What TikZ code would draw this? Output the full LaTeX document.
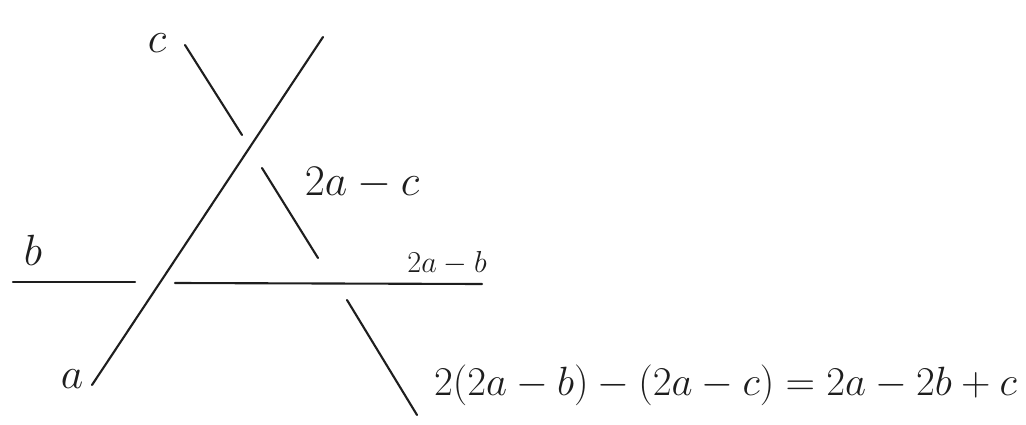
\documentclass[tikz,border=0pt]{standalone}
\usepackage{tikz}
\usetikzlibrary{positioning}
\definecolor{inkgray}{HTML}{1E1E1E}
\tikzset{
  ln/.style={line width=1.2pt,draw=inkgray,line cap=round},
  lbl/.style={font=\fontsize{24}{28}\selectfont,text=inkgray,inner sep=1pt},
}

\begin{document}
\begin{tikzpicture}[x=0.02cm,y=-0.02cm]
  \useasboundingbox (0,0) rectangle (1026,425);
  % line a
  \coordinate (a0) at (92,385);
  \coordinate (a1) at (323,37);
  % line b, cut where a crosses it
  \coordinate (b0) at (13,282);
  \coordinate (b1) at (135,282);
  \coordinate (b2) at (175,283);
  \coordinate (b3) at (482,284);
  % line c, three pieces
  \coordinate (c0) at (185,45);
  \coordinate (c1) at (242,135);
  \coordinate (c2) at (262,168);
  \coordinate (c3) at (318,258);
  \coordinate (c4) at (347,300);
  \coordinate (c5) at (417,415);
  \draw[ln] (a0) -- (a1);
  \draw[ln] (b0) -- (b1);
  \draw[ln] (b2) -- (b3);
  \draw[ln] (c0) -- (c1);
  \draw[ln] (c2) -- (c3);
  \draw[ln] (c4) -- (c5);
  % labels
  \node[lbl] (la) at (72,379) {$a$};
  \node[lbl] (lb) at (33,250) {$b$};
  \node[lbl] (lc) at (157,43) {$c$};
  \node[lbl] (lac) at (362,183) {$2a-c$};
  \node[lbl,font=\fontsize{18}{22}\selectfont] (lab) at (447,263) {$2a-b$};
  \node[lbl,anchor=west] (lsum) at (432,385) {\scalebox{0.935}{$2(2a-b)-(2a-c)=2a-2b+c$}};
\end{tikzpicture}
\end{document}
